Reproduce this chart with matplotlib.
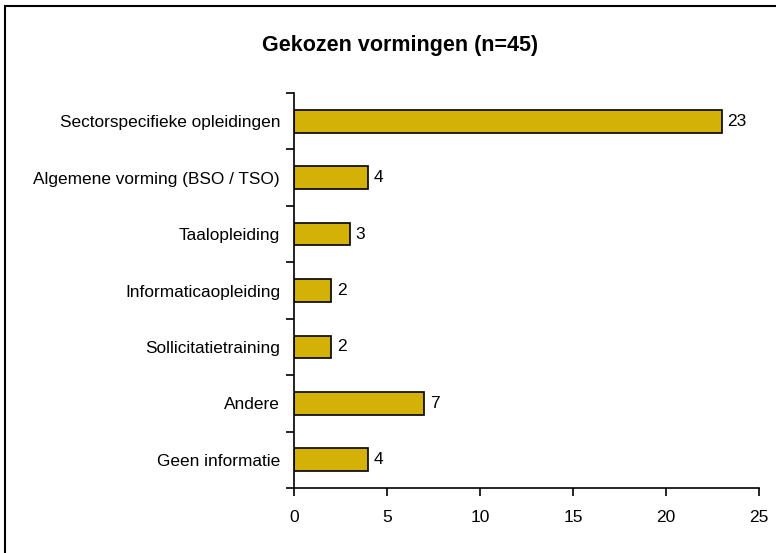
import matplotlib.pyplot as plt
from matplotlib.patches import Rectangle

categories = [
    "Sectorspecifieke opleidingen",
    "Algemene vorming (BSO / TSO)",
    "Taalopleiding",
    "Informaticaopleiding",
    "Sollicitatietraining",
    "Andere",
    "Geen informatie",
]
values = [23, 4, 3, 2, 2, 7, 4]
xticks = [0, 5, 10, 15, 20, 25]

plt.rcParams["font.family"] = ["Liberation Sans", "DejaVu Sans"]

fig = plt.figure(figsize=(7.76, 5.53), dpi=100)
ax = fig.add_axes([294 / 776, 1 - 488 / 553, (759 - 294) / 776, (488 - 93) / 553])

pos = list(range(len(categories)))[::-1]
ax.barh(pos, values, height=0.4, color="#D4B106", edgecolor="black", linewidth=1.2)
for p, v in zip(pos, values):
    ax.text(v + 0.3, p, str(v), va="center", ha="left", fontsize=12.5)

ax.set_ylim(-0.5, len(categories) - 0.5)
ax.set_xlim(0, 25)
ax.set_xticks(xticks)
ax.set_xticklabels([str(t) for t in xticks], fontsize=12.5)
ax.set_yticks(pos)
ax.set_yticklabels(categories, fontsize=12.4)
ax.set_yticks([p - 0.5 for p in pos] + [len(categories) - 0.5], minor=True)
ax.tick_params(axis="y", which="major", length=0, pad=10)
ax.tick_params(axis="y", which="minor", length=6, width=1.2, direction="out")
ax.tick_params(axis="x", length=6, width=1.2, direction="out", pad=10)
for s in ["top", "right"]:
    ax.spines[s].set_visible(False)
for s in ["left", "bottom"]:
    ax.spines[s].set_linewidth(1.2)

fig.text(400 / 776, 1 - 45 / 553, "Gekozen vormingen (n=45)", ha="center", va="center",
         fontsize=15.5, fontweight="bold")

fig.patches.append(Rectangle((5 / 776, -0.05), 1.1, 1.05 - 6 / 553, transform=fig.transFigure,
                             fill=False, edgecolor="black", linewidth=1.5))

fig.savefig("out.png", dpi=100)
